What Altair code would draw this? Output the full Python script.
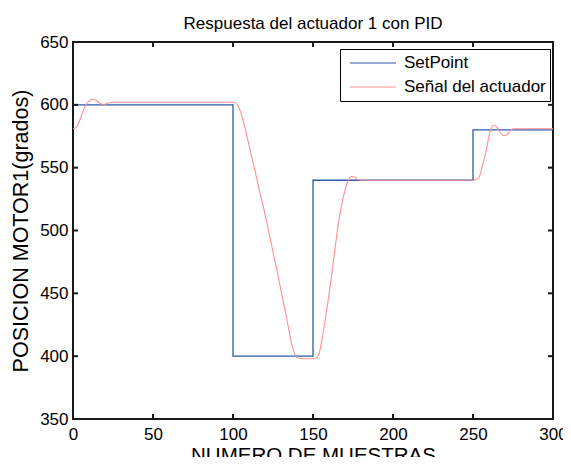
import altair as alt
import pandas as pd

# Setpoint (step signal)
sp_x = [0, 100, 150, 250, 300]
sp_y = [600, 400, 540, 580, 580]

# Actuator response
act_x = [0, 2, 4, 6, 8, 10, 12, 14, 16, 18, 20, 22, 25,
         100, 102, 104, 106, 108, 110, 112, 114, 116, 118, 120, 122, 124, 126, 128, 130, 132, 134,
         136, 138, 140, 142,
         150, 152, 154, 156, 158, 160, 162, 164, 166, 168, 170, 172, 174, 176, 178, 180,
         250, 252, 254, 256, 258, 260, 262, 263, 265, 267, 269, 271, 273, 275, 280, 300]
act_y = [581, 582, 587, 594, 600, 603, 604.5, 604, 602, 600.5, 600.5, 601.5, 602,
         602, 601, 597, 589, 579, 568, 557, 546, 535, 524, 513, 501, 489, 477, 465, 452, 440, 427,
         414, 404, 399, 398,
         398, 398.5, 403, 416, 432, 449, 468, 488, 507, 521, 532, 540, 543, 542.5, 540.5, 540,
         540, 540.5, 543, 552, 562, 575, 583, 584, 582, 578, 575.5, 576, 579, 581, 581, 581]

series_names = ["SetPoint", "Señal del actuador"]
series_colors = ["#2b5aa8", "#ff9090"]

x_ticks = [0, 50, 100, 150, 200, 250, 300]
y_ticks = [350, 400, 450, 500, 550, 600, 650]

W, H = 480, 377
FONT = "Liberation Sans"

sp_df = pd.DataFrame({"x": sp_x, "y": sp_y, "serie": series_names[0]})
act_df = pd.DataFrame({"x": act_x, "y": act_y, "serie": series_names[1]})
xt_df = pd.DataFrame({"t": x_ticks})
yt_df = pd.DataFrame({"t": y_ticks})

xscale = alt.Scale(domain=[0, 300], nice=False, zero=False)
yscale = alt.Scale(domain=[350, 650], nice=False, zero=False)
cscale = alt.Scale(domain=series_names, range=series_colors)

xaxis = alt.Axis(values=x_ticks, title="NUMERO DE MUESTRAS", grid=False, ticks=False, domain=False,
                 labelFontSize=17, labelFont=FONT, labelColor="black", labelPadding=7,
                 labelFlush=False, labelOverlap=False,
                 titleFontSize=20.5, titleFont=FONT, titleFontWeight="normal", titleColor="black",
                 titlePadding=3)
yaxis = alt.Axis(values=y_ticks, title="POSICION MOTOR1(grados)", grid=False, ticks=False, domain=False,
                 labelFontSize=17, labelFont=FONT, labelColor="black", labelPadding=5,
                 labelFlush=False, labelOverlap=False,
                 titleFontSize=21.5, titleFont=FONT, titleFontWeight="normal", titleColor="black",
                 titlePadding=7)

legend = alt.Legend(title=None, orient="none", legendX=267, legendY=7,
                    symbolType="stroke", symbolSize=2116, symbolStrokeWidth=1.2,
                    labelFontSize=17, labelFont=FONT, labelColor="black",
                    strokeColor="black", fillColor="white", padding=4,
                    clipHeight=20, rowPadding=4, symbolOffset=5, labelOffset=7)

sp_line = alt.Chart(sp_df).mark_line(interpolate="step-after", strokeWidth=1.3).encode(
    x=alt.X("x:Q", scale=xscale, axis=xaxis),
    y=alt.Y("y:Q", scale=yscale, axis=yaxis),
    color=alt.Color("serie:N", scale=cscale, legend=legend),
)
act_line = alt.Chart(act_df).mark_line(interpolate="monotone", strokeWidth=1.1).encode(
    x=alt.X("x:Q", scale=xscale),
    y=alt.Y("y:Q", scale=yscale),
    color=alt.Color("serie:N", scale=cscale, legend=legend),
)

tick_color = "#1a1a1a"
xt_bot = alt.Chart(xt_df).mark_rule(color=tick_color, strokeWidth=2).encode(
    x=alt.X("t:Q", scale=xscale), y=alt.value(H), y2=alt.value(H - 5))
xt_top = alt.Chart(xt_df).mark_rule(color=tick_color, strokeWidth=2).encode(
    x=alt.X("t:Q", scale=xscale), y=alt.value(0), y2=alt.value(5))
yt_left = alt.Chart(yt_df).mark_rule(color=tick_color, strokeWidth=2).encode(
    y=alt.Y("t:Q", scale=yscale), x=alt.value(0), x2=alt.value(5))
yt_right = alt.Chart(yt_df).mark_rule(color=tick_color, strokeWidth=2).encode(
    y=alt.Y("t:Q", scale=yscale), x=alt.value(W), x2=alt.value(W - 5))

chart = alt.layer(sp_line, act_line, xt_bot, xt_top, yt_left, yt_right).properties(
    width=W, height=H,
    background="white",
    title=alt.TitleParams("Respuesta del actuador 1 con PID", fontSize=17, font=FONT,
                          fontWeight="normal", color="black", anchor="middle",
                          frame="group", baseline="bottom", offset=6, dy=23),
    autosize=alt.AutoSizeParams(type="none"),
    padding={"left": 65, "top": 34, "right": 10, "bottom": 38},
).configure_view(stroke="#1a1a1a", strokeWidth=2)

chart.save("out.html", embed_options={"renderer": "svg", "actions": False})
